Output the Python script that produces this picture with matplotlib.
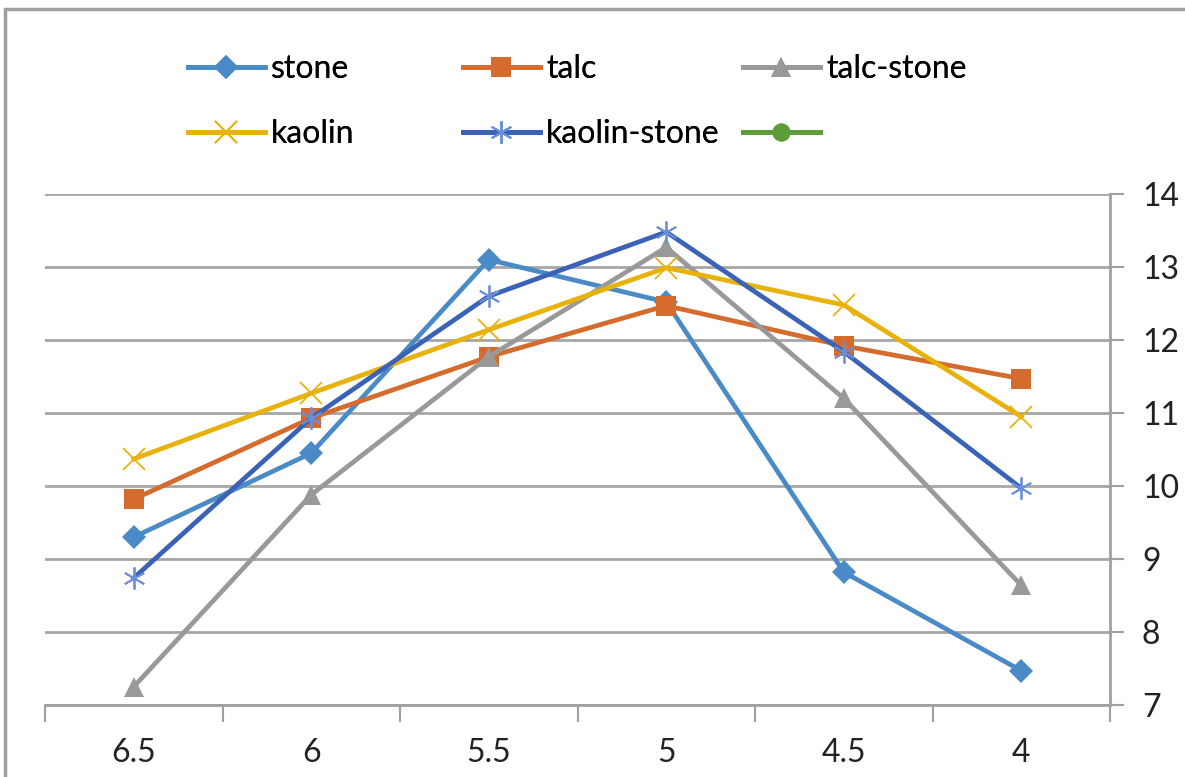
import matplotlib.pyplot as plt
from matplotlib.lines import Line2D
from matplotlib.patches import Rectangle

plt.rcParams['font.family'] = ['Lato', 'DejaVu Sans']

categories = ['6.5', '6', '5.5', '5', '4.5', '4']
stone = [9.30, 10.45, 13.10, 12.52, 8.82, 7.47]
talc = [9.82, 10.93, 11.77, 12.47, 11.92, 11.47]
talc_stone = [7.25, 9.88, 11.77, 13.27, 11.20, 8.64]
kaolin = [10.37, 11.27, 12.14, 12.99, 12.48, 10.95]
kaolin_stone = [8.74, 10.93, 12.60, 13.48, 11.84, 9.97]

series = [
    ('stone', stone, '#4a8ac6', 'D', 12),
    ('talc', talc, '#d56b2c', 's', 14),
    ('talc-stone', talc_stone, '#999999', '^', 15),
    ('kaolin', kaolin, '#e8b20a', 'x', 16),
    ('kaolin-stone', kaolin_stone, '#3a62b6', (6, 2, 0), 16),
]

fig = plt.figure(figsize=(11.85, 7.77), dpi=100)
ax = fig.add_axes([45 / 1185, 1 - 705 / 777, (1110 - 45) / 1185, (705 - 194) / 777])

# chart area border
fig.add_artist(Rectangle((5 / 1185, -0.1), 1.2, 1 - 9 / 777 + 0.1, transform=fig.transFigure,
                         fill=False, edgecolor='#a0a0a0', linewidth=2.5))

x = list(range(len(categories)))
handles = []
for name, vals, color, marker, ms in series:
    thin = marker in ('x', (6, 2, 0))
    edge = '#6a8fd6' if marker == (6, 2, 0) else color
    style = dict(color=color, linewidth=3.4, marker=marker, markersize=ms,
                 markeredgewidth=1.3 if thin else 0, markeredgecolor=edge,
                 markerfacecolor=color)
    ax.plot(x, vals, zorder=3, clip_on=False, **style)
    handles.append(Line2D([], [], label=name, **style))
handles.append(Line2D([], [], color='#5e9c3a', linewidth=3.4, marker='o', markersize=13,
                      markeredgewidth=0, label=' '))

ax.set_xlim(-0.5, 5.5)
ax.set_ylim(7, 14)
ax.set_yticks(range(7, 15))
ax.yaxis.tick_right()
ax.tick_params(axis='y', direction='out', length=10, width=1.5, color='#a0a0a0',
               labelsize=23, pad=13, labelcolor='#222222')
ax.set_xticks([i - 0.5 for i in range(len(categories) + 1)])
ax.set_xticklabels([])
ax.set_xticks(x, minor=True)
ax.set_xticklabels(categories, minor=True)
ax.tick_params(axis='x', which='major', direction='out', length=12, width=1.5, color='#a0a0a0')
ax.tick_params(axis='x', which='minor', length=0, labelsize=23, pad=24, labelcolor='#222222')

ax.grid(axis='y', color='#a6a6a6', linewidth=2)
ax.set_axisbelow(True)
for side in ('left', 'top'):
    ax.spines[side].set_visible(False)
for side in ('right', 'bottom'):
    ax.spines[side].set_color('#a0a0a0')
    ax.spines[side].set_linewidth(2)

# legend laid out row by row in three fixed-width columns
col_x = [188, 463, 743]
for c in range(3):
    leg = fig.legend(handles=[handles[c], handles[c + 3]], frameon=False, fontsize=23,
                     loc='upper left', bbox_to_anchor=(col_x[c] / 1185, 1 - 54 / 777),
                     handlelength=2.4, handletextpad=0.2, labelspacing=1.1,
                     borderaxespad=0, borderpad=0)
    fig.add_artist(leg)

fig.savefig('out.png', dpi=100)
